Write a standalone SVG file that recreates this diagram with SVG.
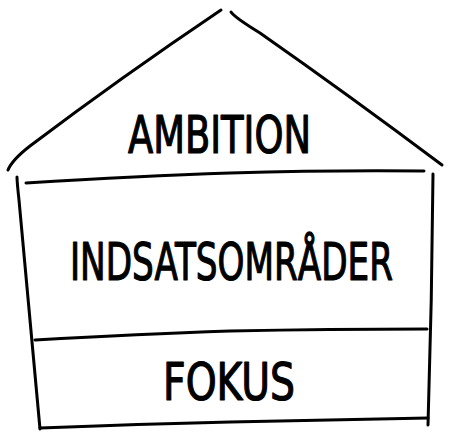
<svg xmlns="http://www.w3.org/2000/svg" width="450" height="441" viewBox="0 0 450 441">
<style>
.ln{fill:none;stroke:#000;stroke-width:3;stroke-linecap:round;stroke-linejoin:round}
.tx{font-family:"DejaVu Sans Condensed","Liberation Sans",sans-serif;font-size:52px;fill:#000;stroke:#000;stroke-width:1.2;stroke-linejoin:round;text-anchor:start}
</style>
<rect width="450" height="441" fill="#fff"/>
<g id="connectors">
<path class="ln" d="M8,170 Q12,160 30,146 Q120,78 221,10"/>
<path class="ln" d="M231,12 Q234,17 260,33 Q350,96 442,165"/>
<path class="ln" d="M26,183 Q140,176 230,173 Q330,170 424,171"/>
<path class="ln" d="M17,177 Q17,182 19,200 Q30,320 40,429"/>
<path class="ln" d="M433,174 Q432,300 428,425"/>
<path class="ln" d="M35,340 Q140,334 230,331 Q330,329 427,329"/>
<path class="ln" d="M40,428 Q140,424 230,422 Q330,420 428,418"/>
</g>
<g id="ambition">
<text class="tx" x="128" y="153" textLength="183" lengthAdjust="spacingAndGlyphs">AMBITION</text>
</g>
<g id="indsatsomraader">
<text class="tx" x="70" y="280" textLength="323" lengthAdjust="spacingAndGlyphs">INDSATSOMRÅDER</text>
</g>
<g id="fokus">
<text class="tx" x="163" y="400" textLength="132" lengthAdjust="spacingAndGlyphs">FOKUS</text>
</g>
</svg>
